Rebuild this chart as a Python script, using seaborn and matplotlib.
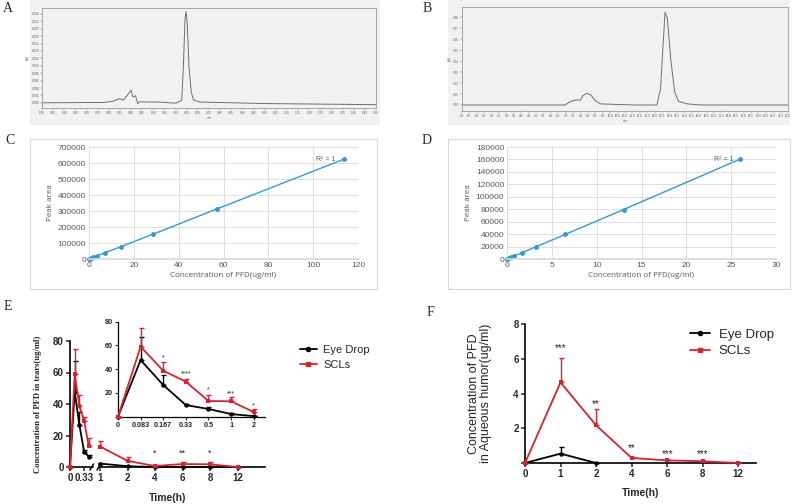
import numpy as np
import matplotlib
matplotlib.use('Agg')
import matplotlib.pyplot as plt
from matplotlib.patches import Rectangle
from matplotlib.lines import Line2D
import seaborn as sns

# chromatograms (x and y in tick steps of each panel)
a_time = [0, 5.5, 6.4, 6.8, 7.1, 7.3, 7.6, 8.0, 8.15, 8.4, 8.6, 8.8, 9.2, 10.6, 12.0,
          12.55, 12.7, 12.85, 12.95, 13.05, 13.2, 13.4, 13.6, 14.2, 20.2, 30]
a_signal = [0, 0.05, 0.2, 0.5, 0.5, 0.35, 0.9, 1.7, 0.8, 0.95, -0.1, 0.15, 0.12, 0.1, -0.05,
            0.3, 5.0, 11.5, 12.3, 10.5, 5.0, 1.5, 0.4, 0.1, -0.1, -0.25]
b_time = [0, 13.9, 14.6, 15.3, 16.0, 16.3, 16.9, 17.4, 18.0, 18.7, 20.9, 23.2, 26.3,
          26.8, 27.1, 27.4, 27.7, 28.2, 28.7, 29.2, 30.4, 32.2, 44]
b_signal = [0, 0, 0.3, 0.45, 0.45, 0.85, 1.07, 0.9, 0.4, 0.1, 0.05, 0, 0,
            1.5, 5.0, 8.46, 8.0, 4.0, 1.2, 0.35, 0.1, 0, 0]
a_xticklabels = ['%.2f' % (0.05 * i) for i in range(31)]
a_yticklabels = ['%.3f' % (0.002 * i) for i in range(13)]
b_xticklabels = ['%.1f' % (0.5 * i) for i in range(45)]
b_yticklabels = ['%.2f' % (0.01 * i) for i in range(9)]

# standard curves
c_conc = [0, 0.44, 0.89, 1.78, 3.56, 7.11, 14.2, 28.4, 56.9, 113.75]
c_area = [0, 2400, 4900, 9800, 19500, 39000, 77000, 154000, 312000, 624000]
d_conc = [0, 0.2, 0.41, 0.81, 1.63, 3.25, 6.5, 13, 26]
d_area = [0, 1200, 2500, 5000, 9900, 19800, 39500, 79500, 160500]

# tears (E)
tear_times = ['0', '0.083', '0.167', '0.33', '0.5', '1', '2', '4', '6', '8', '12']
tear_eye = [0, 47.7, 26.7, 9.8, 6.5, 2.2, 0.5, 0, 0, 0, 0]
tear_eye_sd = [0, 19.3, 8.3, 1.2, 1.4, 0.5, 0, 0, 0, 0, 0]
tear_scl = [0, 59, 38.7, 29.5, 13.2, 13.0, 3.9, 0.6, 1.9, 1.7, 0]
tear_scl_sd = [0, 16, 7.3, 2.2, 5.0, 3.4, 2.4, 0.5, 1.3, 1.5, 0]
tear_stars_inset = {2: '*', 3: '****', 4: '*', 5: '***', 6: '*'}
tear_stars_main = {7: '*', 8: '**', 9: '*'}

# aqueous humor (F)
aq_times = ['0', '1', '2', '4', '6', '8', '12']
aq_eye = [0, 0.54, 0]
aq_eye_sd = [0, 0.36, 0]
aq_scl = [0, 4.64, 2.17, 0.29, 0.15, 0.1, 0]
aq_scl_sd = [0, 1.43, 0.96, 0.05, 0.03, 0.02, 0]
aq_stars = {1: '***', 2: '**', 3: '**', 4: '***', 5: '***'}

RED = '#d8232f'
BLUE = '#2f9bd4'
W, H = 794, 504

sns.set_theme(style='white')
plt.rcParams['font.family'] = ['Liberation Sans', 'DejaVu Sans']

fig = plt.figure(figsize=(W / 100, H / 100), dpi=100)


def box(x0, y0, x1, y1):
    return [x0 / W, 1 - y1 / H, (x1 - x0) / W, (y1 - y0) / H]


def letter(x, y, s):
    fig.text(x / W, 1 - y / H, s, family='Liberation Serif', fontsize=10, ha='center', va='center')


def panel_bg(x0, y0, x1, y1, face, edge):
    fig.patches.append(Rectangle((x0 / W, 1 - y1 / H), (x1 - x0) / W, (y1 - y0) / H,
                                 transform=fig.transFigure, facecolor=face, edgecolor=edge,
                                 linewidth=0.8, zorder=-10))


# ---- A / B chromatograms
def chromatogram(bg, inner, t, sig, xlim, ylim, xlabs, ylabs):
    panel_bg(*bg, '#f1f1f1', 'none')
    ax = fig.add_axes(box(*inner))
    ax.set_facecolor('#f1f1f1')
    sns.lineplot(x=t, y=sig, ax=ax, color='#6e6e6e', linewidth=0.7, sort=False)
    ax.set_xlim(*xlim)
    ax.set_ylim(*ylim)
    ax.set_xticks(range(len(xlabs)))
    ax.set_xticklabels(xlabs, fontsize=2.2, color='#555555')
    ax.set_yticks(range(len(ylabs)))
    ax.set_yticklabels(ylabs, fontsize=2.2, color='#555555')
    ax.tick_params(length=1.2, width=0.3, pad=1, color='#777777', bottom=True, left=True)
    for s in ax.spines.values():
        s.set_color('#9a9a9a')
        s.set_linewidth(0.6)
    ax.set_xlabel('min', fontsize=2.2, labelpad=0.5, color='#555555')
    ax.set_ylabel('AU', fontsize=2.2, labelpad=1, color='#555555')
    return ax


chromatogram((30, 0, 380, 125), (42, 8, 376, 108), a_time, a_signal, (0, 30), (-0.7, 12.8),
             a_xticklabels, a_yticklabels)
chromatogram((448, 0, 790, 125), (462, 7, 788, 111), b_time, b_signal, (0, 44), (-0.55, 8.95),
             b_xticklabels, b_yticklabels)
letter(8, 9, 'A')
letter(427, 9, 'B')


# ---- C / D standard curves
def std_curve(frame, inner, conc, area, xlim, xticks, ylim, yticks, r2_xy):
    panel_bg(*frame, 'white', '#d9d9d9')
    ax = fig.add_axes(box(*inner))
    ax.set_facecolor('none')
    sns.lineplot(x=conc, y=area, ax=ax, color=BLUE, linewidth=1.0, marker='o', markersize=3.5,
                 markeredgewidth=0, clip_on=False)
    ax.set_xlim(*xlim)
    ax.set_ylim(*ylim)
    ax.set_xticks(xticks)
    ax.set_yticks(yticks)
    ax.grid(True, color='#d9d9d9', linewidth=0.6)
    for s in ['top', 'right', 'left']:
        ax.spines[s].set_visible(False)
    ax.spines['bottom'].set_color('#d9d9d9')
    ax.tick_params(labelsize=6, colors='#595959', length=0, pad=2)
    ax.set_xlabel('Concentration of PFD(ug/ml)', family='Open Sans', fontsize=5.8, color='#595959', labelpad=2)
    ax.set_ylabel('Peak area', family='Open Sans', fontsize=5.8, color='#595959', labelpad=3)
    ax.text(r2_xy[0], r2_xy[1], 'R² = 1', fontsize=5, color='#595959', ha='right', va='center')
    return ax


std_curve((30, 139, 377, 289), (89, 147, 358, 259), c_conc, c_area, (0, 120), range(0, 121, 20),
          (0, 700000), range(0, 700001, 100000), (110, 624000))
std_curve((448, 139, 790, 289), (507, 147, 776, 259), d_conc, d_area, (0, 30), range(0, 31, 5),
          (0, 180000), range(0, 180001, 20000), (25.3, 160500))
letter(10, 140, 'C')
letter(427, 141, 'D')


# ---- E / F pharmacokinetics
def series(ax, pos, vals, sd, color, marker):
    sns.lineplot(x=pos, y=vals, ax=ax, color=color, marker=marker, markersize=3.2, markeredgewidth=0,
                 linewidth=1.3, clip_on=False, zorder=3)
    ax.errorbar(pos, vals, yerr=[np.zeros(len(sd)), sd], fmt='none', ecolor=color, elinewidth=1,
                capsize=1.8, capthick=1, clip_on=False, zorder=3)


def prism(ax, labsize):
    sns.despine(ax=ax)
    for s in ['left', 'bottom']:
        ax.spines[s].set_color('black')
        ax.spines[s].set_linewidth(1.2)
    ax.tick_params(axis='both', direction='out', length=3, width=1.1, pad=1.5,
                   bottom=True, left=True, labelsize=labsize)
    for lab in ax.get_xticklabels() + ax.get_yticklabels():
        lab.set_fontweight('bold')


n_early = 5
# main E, left segment
e1 = fig.add_axes(box(70, 341, 93, 467))
series(e1, range(n_early), tear_eye[:n_early], tear_eye_sd[:n_early], 'black', 'o')
series(e1, range(n_early), tear_scl[:n_early], tear_scl_sd[:n_early], RED, 's')
e1.set_xlim(0, 4.9)
e1.set_ylim(0, 80)
e1.set_yticks([0, 20, 40, 60, 80])
e1.set_xticks([0, 3])
e1.set_xticklabels([tear_times[0], tear_times[3]])
prism(e1, 7)
e1.set_ylabel('Concentration of PFD in tears(ug/ml)', family='Liberation Serif', fontweight='bold',
              fontsize=6.2, labelpad=8)

# main E, right segment
e2 = fig.add_axes(box(100, 341, 265, 467))
late = range(len(tear_times) - n_early)
series(e2, late, tear_eye[n_early:], tear_eye_sd[n_early:], 'black', 'o')
series(e2, late, tear_scl[n_early:], tear_scl_sd[n_early:], RED, 's')
e2.set_xlim(0, 6.0)
e2.set_ylim(0, 80)
e2.set_xticks(list(late))
e2.set_xticklabels(tear_times[n_early:])
e2.set_yticks([])
prism(e2, 7)
e2.spines['left'].set_visible(False)
for i, s in tear_stars_main.items():
    e2.text(i - n_early, 8.5, s, ha='center', va='center', fontsize=6.5)
e2.set_xlabel('Time(h)', fontweight='bold', fontsize=7.5)
e2.xaxis.set_label_coords(0.41, -0.21)
# axis break marks
for xa in (92.5, 99.5):
    fig.lines.append(Line2D([(xa - 2.5) / W, (xa + 1) / W], [1 - 470 / H, 1 - 464 / H],
                            color='black', linewidth=1.1, transform=fig.transFigure))

# inset
ei = fig.add_axes(box(118, 321.7, 265, 416.7))
ei.set_facecolor('none')
n_in = 7
series(ei, range(n_in), tear_eye[:n_in], tear_eye_sd[:n_in], 'black', 'o')
series(ei, range(n_in), tear_scl[:n_in], tear_scl_sd[:n_in], RED, 's')
ei.set_xlim(0, 6.5)
ei.set_ylim(0, 80)
ei.set_xticks(range(n_in))
ei.set_xticklabels(tear_times[:n_in])
ei.set_yticks([0, 20, 40, 60, 80])
ei.set_yticklabels(['', '20', '40', '60', '80'])
prism(ei, 5.2)
for s in ['left', 'bottom']:
    ei.spines[s].set_linewidth(0.9)
ei.tick_params(length=2, width=0.8)
for i, s in tear_stars_inset.items():
    ei.text(i, {2: 49.5, 3: 36, 4: 22.5, 5: 19.6, 6: 9}[i], s, ha='center', va='center', fontsize=5)

eh = [Line2D([], [], color='black', marker='o', markersize=3, linewidth=1.3),
      Line2D([], [], color=RED, marker='s', markersize=3, linewidth=1.3)]
fig.legend(eh, ['Eye Drop', 'SCLs'], loc='center left', bbox_to_anchor=(290 / W, 1 - 357.5 / H),
           frameon=False, fontsize=8, handlelength=1.5, handletextpad=0.6, labelspacing=0.45)
letter(8, 307, 'E')

# F
fa = fig.add_axes(box(525, 324, 756, 463))
series(fa, range(len(aq_eye)), aq_eye, aq_eye_sd, 'black', 'o')
series(fa, range(len(aq_scl)), aq_scl, aq_scl_sd, RED, 's')
fa.set_xlim(0, 6.5)
fa.set_ylim(0, 8)
fa.set_xticks(range(len(aq_times)))
fa.set_xticklabels(aq_times)
fa.set_yticks([0, 2, 4, 6, 8])
fa.set_yticklabels(['', '2', '4', '6', '8'])
prism(fa, 7)
for i, s in aq_stars.items():
    fa.text(i, {1: 6.6, 2: 3.4, 3: 0.85, 4: 0.5, 5: 0.5}[i], s, ha='center', va='center', fontsize=7)
fa.set_xlabel('Time(h)', fontweight='bold', fontsize=7.5, labelpad=6)
fa.set_ylabel('Concentration of PFD\nin Aqueous humor(ug/ml)', fontsize=9, labelpad=15, linespacing=1.1)
fig.legend(eh, ['Eye Drop', 'SCLs'], loc='center left', bbox_to_anchor=(678 / W, 1 - 343 / H),
           frameon=False, fontsize=9.5, handlelength=1.5, handletextpad=0.7, labelspacing=0.3)
letter(430, 313, 'F')

fig.savefig('out.png', dpi=100)
